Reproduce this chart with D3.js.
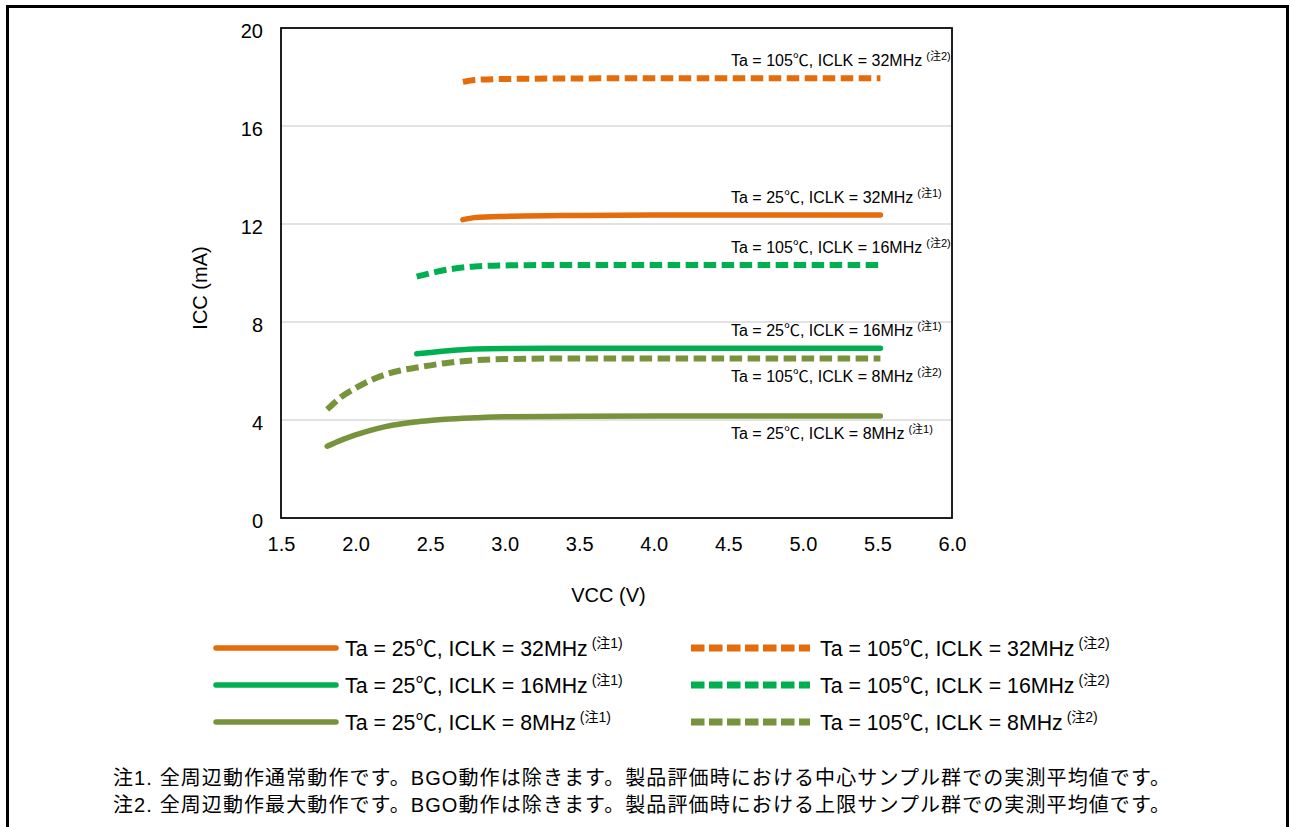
<!DOCTYPE html>
<html><head><meta charset="utf-8">
<script src="https://cdn.jsdelivr.net/npm/d3@7"></script>
<style>
html,body{margin:0;padding:0;background:#fff;}
text{font-family:Arial,"Liberation Sans","Noto Sans CJK JP",sans-serif;fill:#000;}
</style></head>
<body>
<svg id="c" width="1290" height="827"></svg>
<script>
// ---- data ----
const xTicks = [1.5, 2.0, 2.5, 3.0, 3.5, 4.0, 4.5, 5.0, 5.5, 6.0];
const yTicks = [0, 4, 8, 12, 16, 20];

const vcc_25_32 = [2.72, 2.8, 3.0, 3.5, 4.0, 4.5, 5.0, 5.52];
const icc_25_32 = [12.18, 12.26, 12.31, 12.35, 12.37, 12.37, 12.37, 12.37];
const vcc_105_32 = [2.72, 2.8, 3.0, 3.5, 4.0, 4.5, 5.0, 5.52];
const icc_105_32 = [17.8, 17.88, 17.92, 17.94, 17.95, 17.95, 17.95, 17.95];
const vcc_25_16 = [2.41, 2.6, 2.8, 3.0, 3.5, 4.0, 4.5, 5.0, 5.52];
const icc_25_16 = [6.7, 6.82, 6.9, 6.92, 6.93, 6.93, 6.93, 6.93, 6.93];
const vcc_105_16 = [2.41, 2.6, 2.8, 3.0, 3.5, 4.0, 4.5, 5.0, 5.52];
const icc_105_16 = [9.85, 10.12, 10.27, 10.31, 10.33, 10.33, 10.33, 10.33, 10.33];
const vcc_25_8 = [1.81, 1.9, 2.0, 2.1, 2.2, 2.3, 2.4, 2.5, 2.6, 2.8, 3.0, 3.5, 4.0, 4.5, 5.0, 5.52];
const icc_25_8 = [2.93, 3.17, 3.39, 3.58, 3.73, 3.84, 3.92, 3.98, 4.03, 4.09, 4.13, 4.15, 4.16, 4.16, 4.16, 4.16];
const vcc_105_8 = [1.81, 1.9, 2.0, 2.1, 2.2, 2.3, 2.4, 2.6, 2.8, 3.0, 3.5, 4.0, 4.5, 5.0, 5.52];
const icc_105_8 = [4.43, 4.92, 5.3, 5.62, 5.86, 6.02, 6.13, 6.32, 6.44, 6.49, 6.51, 6.51, 6.51, 6.51, 6.51];

const seriesNames = ["Ta = 25℃, ICLK = 32MHz", "Ta = 105℃, ICLK = 32MHz",
  "Ta = 25℃, ICLK = 16MHz", "Ta = 105℃, ICLK = 16MHz",
  "Ta = 25℃, ICLK = 8MHz", "Ta = 105℃, ICLK = 8MHz"];
const seriesNotes = ["(注1)", "(注2)", "(注1)", "(注2)", "(注1)", "(注2)"];
const labelSide = ["above", "above", "above", "above", "below", "below"];
const footnotes = [
  "注1. 全周辺動作通常動作です。BGO動作は除きます。製品評価時における中心サンプル群での実測平均値です。",
  "注2. 全周辺動作最大動作です。BGO動作は除きます。製品評価時における上限サンプル群での実測平均値です。"
];
const xTitle = "VCC (V)";
const yTitle = "ICC (mA)";

// ---- styles ----
const ORANGE = "#E46C0A", GREEN = "#00B050", OLIVE = "#77933C";
const series = [
  {v: vcc_25_32, i: icc_25_32, color: ORANGE, dashed: false},
  {v: vcc_105_32, i: icc_105_32, color: ORANGE, dashed: true},
  {v: vcc_25_16, i: icc_25_16, color: GREEN, dashed: false},
  {v: vcc_105_16, i: icc_105_16, color: GREEN, dashed: true},
  {v: vcc_25_8, i: icc_25_8, color: OLIVE, dashed: false},
  {v: vcc_105_8, i: icc_105_8, color: OLIVE, dashed: true}
];

const svg = d3.select("#c");
// outer border (bottom edge cut off)
svg.append("rect").attr("x", 7.5).attr("y", 6.5).attr("width", 1280).attr("height", 900)
  .attr("fill", "#fff").attr("stroke", "#000").attr("stroke-width", 3);

const L = 281, R = 952, T = 28, B = 518;
const x = d3.scaleLinear().domain([1.5, 6.0]).range([L, R]);
const y = d3.scaleLinear().domain([0, 20]).range([B, T]);

// gridlines
svg.append("g").selectAll("line").data(yTicks.filter(d => d > 0 && d < 20)).join("line")
  .attr("x1", L).attr("x2", R).attr("y1", d => y(d)).attr("y2", d => y(d))
  .attr("stroke", "#D9D9D9").attr("stroke-width", 1.5);

// axes
const ax = svg.append("g").attr("transform", `translate(0,${B})`)
  .call(d3.axisBottom(x).tickValues(xTicks).tickFormat(d3.format(".1f")).tickSize(0).tickPadding(19));
ax.select(".domain").remove();
ax.selectAll("text").attr("font-size", 20).attr("font-family", null);
const ay = svg.append("g").attr("transform", `translate(${L},0)`)
  .call(d3.axisLeft(y).tickValues(yTicks).tickFormat(d3.format("d")).tickSize(0).tickPadding(18));
ay.select(".domain").remove();
ay.selectAll("text").attr("font-size", 20).attr("font-family", null).attr("dy", "0.45em");

// plot frame
svg.append("rect").attr("x", L).attr("y", T).attr("width", R - L).attr("height", B - T)
  .attr("fill", "none").attr("stroke", "#000").attr("stroke-width", 1.75);

// lines
const line = d3.line().x(d => x(d[0])).y(d => y(d[1])).curve(d3.curveMonotoneX);
series.forEach(s => {
  const pts = s.v.map((v, k) => [v, s.i[k]]);
  svg.append("path").attr("d", line(pts)).attr("fill", "none")
    .attr("stroke", s.color)
    .attr("stroke-width", s.dashed ? 6 : 5.5)
    .attr("stroke-linecap", s.dashed ? "butt" : "round")
    .attr("stroke-dasharray", s.dashed ? "12.5,5.5" : null);
});

// in-plot labels
function labelText(sel, name, note, nfs, shift) {
  sel.append("tspan").text(name);
  sel.append("tspan").attr("font-size", nfs).attr("dx", 4).attr("dy", -shift).text(note);
}
series.forEach((s, k) => {
  const last = s.i[s.i.length - 1];
  const by = labelSide[k] === "above" ? y(last) - 12 : y(last) + 23;
  const t = svg.append("text").attr("x", 731).attr("y", by).attr("font-size", 16);
  labelText(t, seriesNames[k], seriesNotes[k], 11, 6);
});

// axis titles
svg.append("text").attr("x", (L + R) / 2 - 8).attr("y", 602).attr("text-anchor", "middle")
  .attr("font-size", 20).text(xTitle);
svg.append("text").attr("transform", "translate(207,288) rotate(-90)").attr("text-anchor", "middle")
  .attr("font-size", 20).text(yTitle);

// legend
const rowsY = [648, 685, 722];
series.forEach((s, k) => {
  const col = k % 2, row = Math.floor(k / 2);
  const x0 = col === 0 ? 216 : 691, x1 = col === 0 ? 336 : 810, tx = col === 0 ? 345 : 820;
  svg.append("line").attr("x1", x0).attr("x2", x1).attr("y1", rowsY[row]).attr("y2", rowsY[row])
    .attr("stroke", s.color).attr("stroke-width", s.dashed ? 7 : 5.5)
    .attr("stroke-linecap", s.dashed ? "butt" : "round")
    .attr("stroke-dasharray", s.dashed ? "13.5,4.5" : null);
  const t = svg.append("text").attr("x", tx).attr("y", rowsY[row] + 7.5).attr("font-size", 21.3);
  labelText(t, seriesNames[k], seriesNotes[k], 14, 8);
});

// footnotes
footnotes.forEach((f, k) => {
  svg.append("text").attr("x", 113).attr("y", 785 + k * 27).attr("font-size", 20)
    .attr("textLength", 1057).attr("lengthAdjust", "spacing").text(f);
});
</script>
</body></html>
